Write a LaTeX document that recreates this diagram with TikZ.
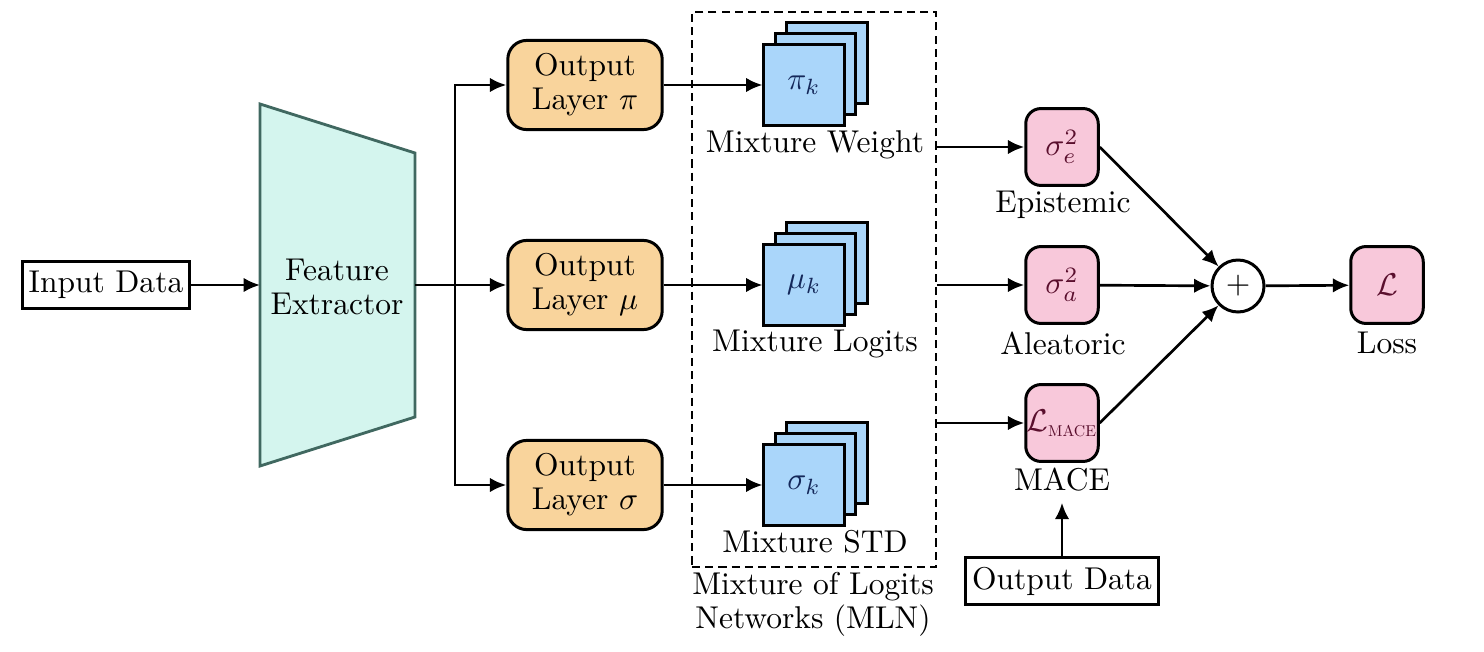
\documentclass[tikz,border=0pt]{standalone}
\usepackage{amsmath}
\usetikzlibrary{arrows.meta}

\definecolor{featfill}{RGB}{212,245,238}
\definecolor{featline}{RGB}{64,104,96}
\definecolor{layerfill}{RGB}{249,212,156}
\definecolor{stackfill}{RGB}{170,214,250}
\definecolor{stacktext}{RGB}{20,40,90}
\definecolor{lossfill}{RGB}{248,200,218}
\definecolor{losstext}{RGB}{90,15,45}

\begin{document}
\begin{tikzpicture}[x=0.01116cm, y=-0.01116cm,
		flow/.style={-{Latex[length=5.2pt,width=4.6pt]}, line width=0.85pt},
		databox/.style={draw, line width=0.95pt, minimum height=15pt, inner sep=2pt},
		layerbox/.style={draw, line width=0.95pt, fill=layerfill, rounded corners=6pt, minimum width=49pt, minimum height=28.3pt, align=center, font=\linespread{0.9}\selectfont},
		stackbox/.style={draw, line width=0.95pt, fill=stackfill, text=stacktext, minimum size=25.4pt, inner sep=0pt},
		lossbox/.style={draw, line width=0.95pt, fill=lossfill, text=losstext, rounded corners=4.8pt, minimum width=23pt, minimum height=24.4pt, inner sep=0pt},
		twoline/.style={align=center, font=\linespread{0.9}\selectfont}]
		\useasboundingbox ( 0, 0 ) rectangle ( 1484, 652 );

		% входные данные
		\node [databox] (indata) at ( 106, 285 ) {Input Data};

		% feature extractor
		\draw [featline, fill=featfill, line width=0.9pt] ( 260, 104 ) -- ( 415, 153 ) -- ( 415, 417 ) -- ( 260, 466 ) -- cycle;
		\node [twoline] (feat) at ( 337, 287 ) {Feature\\Extractor};
		\coordinate (feat-w) at ( 260, 285 );
		\coordinate (feat-e) at ( 415, 285 );
		\coordinate (split) at ( 455, 285 );
		\draw [flow] (indata) -- (feat-w);

		% выходные слои
		\node [layerbox] (outpi) at ( 585, 85 ) {Output\\Layer $\pi$};
		\node [layerbox] (outmu) at ( 585, 285 ) {Output\\Layer $\mu$};
		\node [layerbox] (outsig) at ( 585, 485 ) {Output\\Layer $\sigma$};
		\draw [line width=0.85pt] (feat-e) -- (split);
		\draw [flow] (split) |- (outpi);
		\draw [flow] (split) -- (outmu);
		\draw [flow] (split) |- (outsig);

		% MLN
		\node [draw, line width=0.85pt, dash pattern=on 2.6pt off 1.6pt, minimum width=77.5pt, minimum height=176.2pt] (mln) at ( 814, 289.5 ) {};
		\node [twoline] (mlnlbl) at ( 813, 604 ) {Mixture of Logits\\Networks (MLN)};

		% стек pi
		\node [stackbox] (pi-2) at ( 827, 63 ) {};
		\node [stackbox] (pi-1) at ( 815.5, 74 ) {};
		\node [stackbox] (pi) at ( 804, 85 ) {$\pi_k$};
		\node (pilbl) at ( 815, 145 ) {Mixture Weight};
		\draw [flow] (outpi) -- (pi);

		% стек mu
		\node [stackbox] (mu-2) at ( 827, 263 ) {};
		\node [stackbox] (mu-1) at ( 815.5, 274 ) {};
		\node [stackbox] (mu) at ( 804, 285 ) {$\mu_k$};
		\node (mulbl) at ( 815, 344 ) {Mixture Logits};
		\draw [flow] (outmu) -- (mu);

		% стек sigma
		\node [stackbox] (sig-2) at ( 827, 463 ) {};
		\node [stackbox] (sig-1) at ( 815.5, 474 ) {};
		\node [stackbox] (sig) at ( 804, 485 ) {$\sigma_k$};
		\node (siglbl) at ( 815, 542 ) {Mixture STD};
		\draw [flow] (outsig) -- (sig);

		% неопределенности и MACE
		\node [lossbox] (sige) at ( 1062, 147 ) {$\sigma_e^2$};
		\node (sigelbl) at ( 1063, 205 ) {Epistemic};
		\node [lossbox] (siga) at ( 1062, 285 ) {$\sigma_a^2$};
		\node (sigalbl) at ( 1063, 343 ) {Aleatoric};
		\node [lossbox] (mace) at ( 1062, 423 ) {$\mathcal{L}_{\scalebox{0.5}{$\mathrm{MACE}$}}$};
		\node (macelbl) at ( 1062, 480 ) {MACE};
		\draw [flow] (mln.east |- sige) -- (sige);
		\draw [flow] (mln.east |- siga) -- (siga);
		\draw [flow] (mln.east |- mace) -- (mace);

		% выходные данные
		\node [databox] (outdata) at ( 1062, 581 ) {Output Data};
		\draw [flow] (outdata) -- (macelbl);

		% сумма и потеря
		\node [draw, circle, line width=0.95pt, minimum size=16.5pt, inner sep=0pt] (plus) at ( 1238, 286 ) {$+$};
		\node [lossbox] (loss) at ( 1387, 285 ) {$\mathcal{L}$};
		\node (losslbl) at ( 1387, 343 ) {Loss};
		\draw [flow] (sige.east) -- (plus);
		\draw [flow] (siga) -- (plus);
		\draw [flow] (mace.east) -- (plus);
		\draw [flow] (plus) -- (loss);
	\end{tikzpicture}
\end{document}
